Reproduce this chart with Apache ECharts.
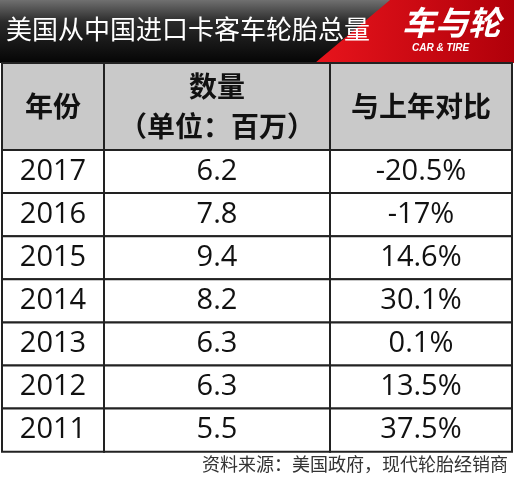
<!DOCTYPE html>
<html><head><meta charset="utf-8">
<script src="https://cdn.jsdelivr.net/npm/echarts@6/dist/echarts.min.js"></script>
<style>html,body{margin:0;padding:0;background:#fff}#c{width:514px;height:480px}</style>
</head><body><div id="c"></div>
<script>
var title = '美国从中国进口卡客车轮胎总量';
var source = '资料来源：美国政府，现代轮胎经销商';
var headers = ['年份', '数量\n（单位：百万）', '与上年对比'];
var years = ['2017','2016','2015','2014','2013','2012','2011'];
var volumes = ['6.2','7.8','9.4','8.2','6.3','6.3','5.5'];
var changes = ['-20.5%','-17%','14.6%','30.1%','0.1%','13.5%','37.5%'];

// layout (not data)
var colEdges = [0, 102, 328, 510];
var headerH = 87, rowH = 43.1;
function rowTop(r){ return r === 0 ? 0 : headerH + (r-1)*rowH; }
function rowBot(r){ return r === 0 ? headerH : headerH + r*rowH; }

var cells = [];
headers.forEach(function(h,c){ cells.push([c,0,h]); });
years.forEach(function(y,i){
  cells.push([0,i+1,y]); cells.push([1,i+1,volumes[i]]); cells.push([2,i+1,changes[i]]);
});
var totalH = rowBot(years.length);

var chart = echarts.init(document.getElementById('c'));
chart.setOption({
  animation:false,
  grid:{left:2,top:63,width:510,height:totalH},
  xAxis:{type:'value',min:0,max:510,show:false},
  yAxis:{type:'value',min:0,max:totalH,inverse:true,show:false},
  graphic:[
    {type:'rect',shape:{x:0,y:0,width:514,height:63},style:{fill:{type:'linear',x:0,y:0,x2:0,y2:1,colorStops:[{offset:0,color:'#707070'},{offset:0.35,color:'#2a2a2a'},{offset:1,color:'#050505'}]}}},
    {type:'polygon',shape:{points:[[315,63],[390,0],[514,0],[514,63]]},style:{fill:{type:'linear',x:0,y:0,x2:1,y2:0,colorStops:[{offset:0,color:'#e8141c'},{offset:1,color:'#b0000a'}]}}},
    {type:'text',left:6,top:16,style:{text:title,fill:'#fff',font:'26px "Noto Sans CJK SC"'}},
    {type:'text',left:402,top:6,style:{text:'车与轮',fill:'#fff',font:'italic bold 33px "Noto Sans CJK SC"'}},
    {type:'text',left:412,top:43,style:{text:'CAR & TIRE',fill:'#fff',font:'italic bold 10px "Liberation Sans"'}},
    {type:'text',right:6,top:455,style:{text:source,fill:'#333',font:'18px "Noto Sans CJK SC"'}}
  ],
  series:[{
    type:'custom',
    data:cells,
    renderItem:function(params,api){
      var c=api.value(0), r=api.value(1);
      var p0=api.coord([colEdges[c],rowTop(r)]), p1=api.coord([colEdges[c+1],rowBot(r)]);
      var txt=cells[params.dataIndex][2];
      var hdr=r===0;
      return {type:'group',children:[
        {type:'rect',shape:{x:p0[0],y:p0[1],width:p1[0]-p0[0],height:p1[1]-p0[1]},
          style:{fill:hdr?'#c9c9c9':'#fff',stroke:'#222',lineWidth:2}},
        {type:'text',style:{x:(p0[0]+p1[0])/2,y:(p0[1]+p1[1])/2,text:txt,align:'center',verticalAlign:'middle',
          fill:'#111',font:hdr?'bold 28px "Noto Sans CJK SC"':'29px "Open Sans"',lineHeight:hdr?40:30}}
      ]};
    }
  }]
});
</script></body></html>
